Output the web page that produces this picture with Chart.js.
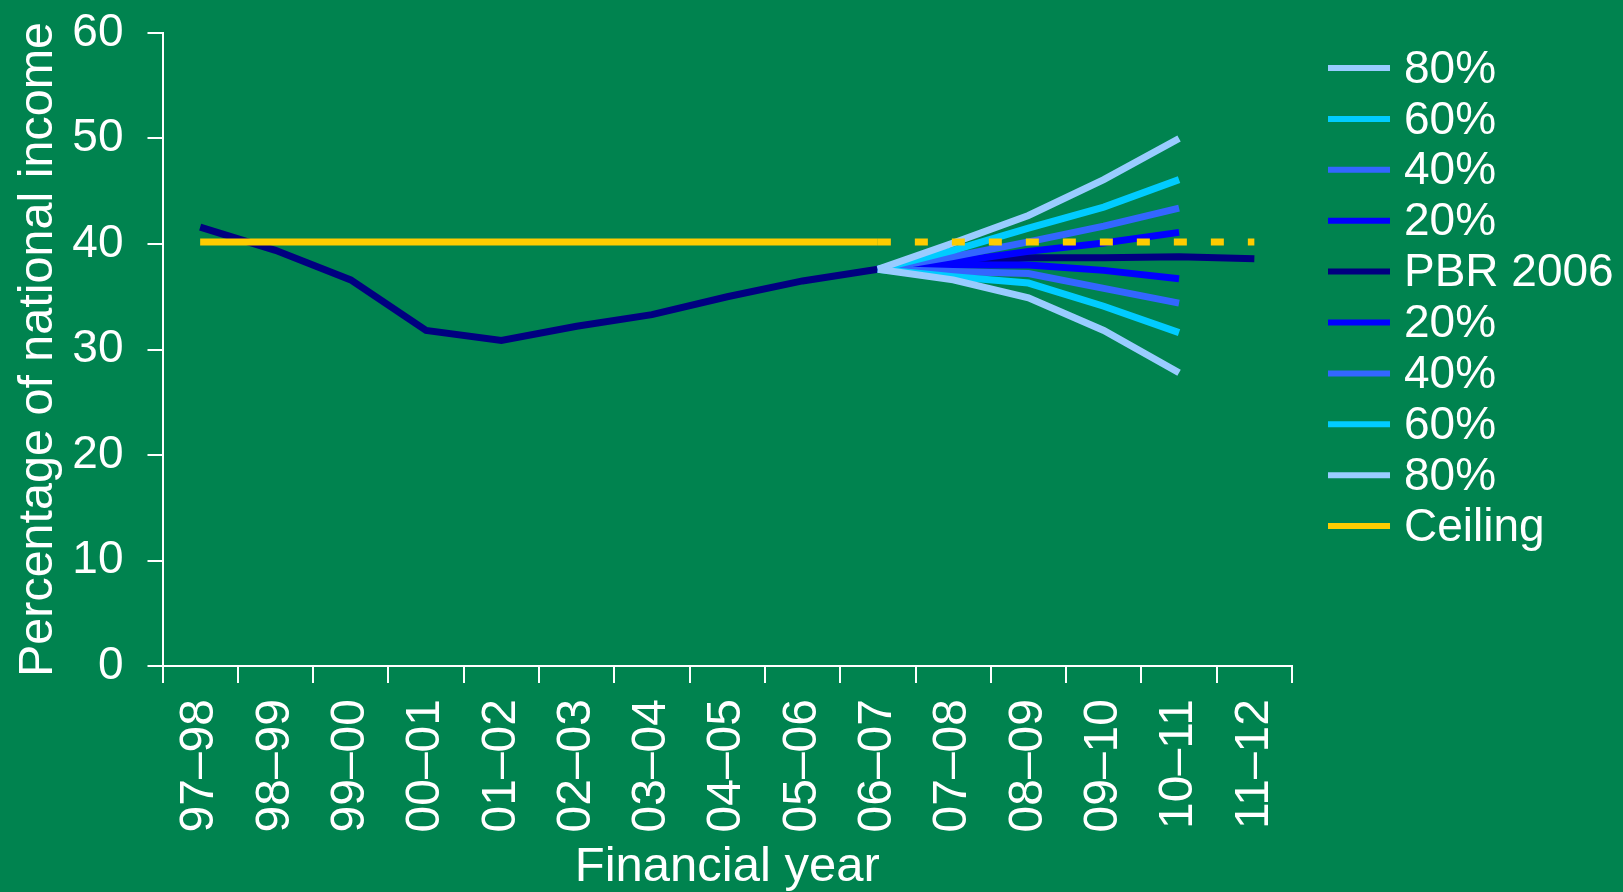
<!DOCTYPE html>
<html>
<head>
<meta charset="utf-8">
<script src="https://cdn.jsdelivr.net/npm/chart.js@4"></script>
<style>
  html, body { margin: 0; padding: 0; background: #00834f; }
  #wrap { width: 1623px; height: 892px; }
</style>
</head>
<body>
<div id="wrap"><canvas id="fanChart"></canvas></div>
<script>
// données
const years = ['97–98', '98–99', '99–00', '00–01', '01–02', '02–03', '03–04', '04–05',
  '05–06', '06–07', '07–08', '08–09', '09–10', '10–11', '11–12'];
const pbr2006 = [41.6, 39.4, 36.6, 31.8, 30.85, 32.2, 33.3, 35.0, 36.5, 37.6, 38.2, 38.7, 38.7, 38.8, 38.6];
const up80 = [null, null, null, null, null, null, null, null, null, 37.6, 40.1, 42.7, 46.1, 50.0, null];
const up60 = [null, null, null, null, null, null, null, null, null, 37.6, 39.4, 41.5, 43.5, 46.1, null];
const up40 = [null, null, null, null, null, null, null, null, null, 37.6, 38.8, 40.2, 41.7, 43.4, null];
const up20 = [null, null, null, null, null, null, null, null, null, 37.6, 38.3, 39.3, 40.1, 41.1, null];
const lo20 = [null, null, null, null, null, null, null, null, null, 37.6, 38.0, 38.0, 37.5, 36.7, null];
const lo40 = [null, null, null, null, null, null, null, null, null, 37.6, 37.4, 37.2, 35.8, 34.4, null];
const lo60 = [null, null, null, null, null, null, null, null, null, 37.6, 36.9, 36.3, 34.1, 31.6, null];
const lo80 = [null, null, null, null, null, null, null, null, null, 37.6, 36.6, 34.9, 31.8, 27.8, null];
const ceiling = [40.2, 40.2, 40.2, 40.2, 40.2, 40.2, 40.2, 40.2, 40.2, 40.2, null, null, null, null, null];
const ceilingAhead = [null, null, null, null, null, null, null, null, null, 40.2, 40.2, 40.2, 40.2, 40.2, 40.2];
const yTicks = [0, 10, 20, 30, 40, 50, 60];

const FONT = 'Liberation Sans, Arial, sans-serif';
const WHITE = '#ffffff';

function line(label, data, color, order, extra) {
    return Object.assign({
        label: label,
        data: data,
        borderColor: color,
        backgroundColor: color,
        borderWidth: 7,
        pointRadius: 0,
        tension: 0,
        spanGaps: false,
        order: order
    }, extra || {});
}

// fond vert + légende dessinée à droite
const backdrop = {
    id: 'backdrop',
    beforeDraw(chart) {
        const c = chart.ctx;
        c.save();
        c.fillStyle = '#00834f';
        c.fillRect(0, 0, chart.width, chart.height);
        c.restore();
    },
    afterDraw(chart) {
        const c = chart.ctx;
        const items = chart.data.datasets.filter(d => !d.hideInLegend);
        c.save();
        c.font = '46px ' + FONT;
        c.textBaseline = 'middle';
        c.fillStyle = WHITE;
        items.forEach((d, i) => {
            const y = 68 + i * 50.9;
            c.strokeStyle = d.borderColor;
            c.lineWidth = 6;
            c.beginPath();
            c.moveTo(1328, y);
            c.lineTo(1390, y);
            c.stroke();
            c.fillText(d.label, 1404, y + 2);
        });
        c.restore();
    }
};

new Chart(document.getElementById('fanChart').getContext('2d'), {
    type: 'line',
    data: {
        labels: years,
        datasets: [
            line('80%', up80, '#99ccff', 5),
            line('60%', up60, '#00ccff', 6),
            line('40%', up40, '#3366ff', 7),
            line('20%', up20, '#0000ff', 8),
            line('PBR 2006', pbr2006, '#000080', 9),
            line('20%', lo20, '#0000ff', 8),
            line('40%', lo40, '#3366ff', 7),
            line('60%', lo60, '#00ccff', 6),
            line('80%', lo80, '#99ccff', 5),
            line('Ceiling', ceiling, '#ffcc00', 1),
            line('Ceiling', ceilingAhead, '#ffcc00', 0, { borderDash: [13, 24], borderCapStyle: 'butt', hideInLegend: true })
        ]
    },
    options: {
        responsive: true,
        maintainAspectRatio: false,
        animation: false,
        layout: { padding: { top: 33, right: 331, left: 0, bottom: 0 } },
        scales: {
            x: {
                offset: true,
                grid: { display: true, offset: true, drawOnChartArea: false, color: WHITE, lineWidth: 2, tickLength: 17 },
                border: { display: true, color: WHITE, width: 2 },
                ticks: { color: WHITE, font: { family: FONT, size: 48 }, minRotation: 90, maxRotation: 90, padding: 16, autoSkip: false },
                title: { display: true, text: 'Financial year', color: WHITE, font: { family: FONT, size: 49, lineHeight: 1 }, padding: 0 },
                afterFit(scale) { scale.height = 892 - 666; scale.paddingTop = 0; }
            },
            y: {
                min: 0,
                max: 60,
                afterBuildTicks(scale) { scale.ticks = yTicks.map(v => ({ value: v })); },
                grid: { display: true, drawOnChartArea: false, color: WHITE, lineWidth: 2, tickLength: 15 },
                border: { display: true, color: WHITE, width: 2 },
                ticks: { color: WHITE, font: { family: FONT, size: 46 }, padding: 24 },
                title: { display: true, text: 'Percentage of national income', color: WHITE, font: { family: FONT, size: 48.5, lineHeight: 1 }, padding: { top: 14 } },
                afterFit(scale) { scale.width = 162.5; scale.paddingTop = 0; }
            }
        },
        plugins: {
            legend: { display: false },
            tooltip: { enabled: false }
        }
    },
    plugins: [backdrop]
});
</script>
</body>
</html>
